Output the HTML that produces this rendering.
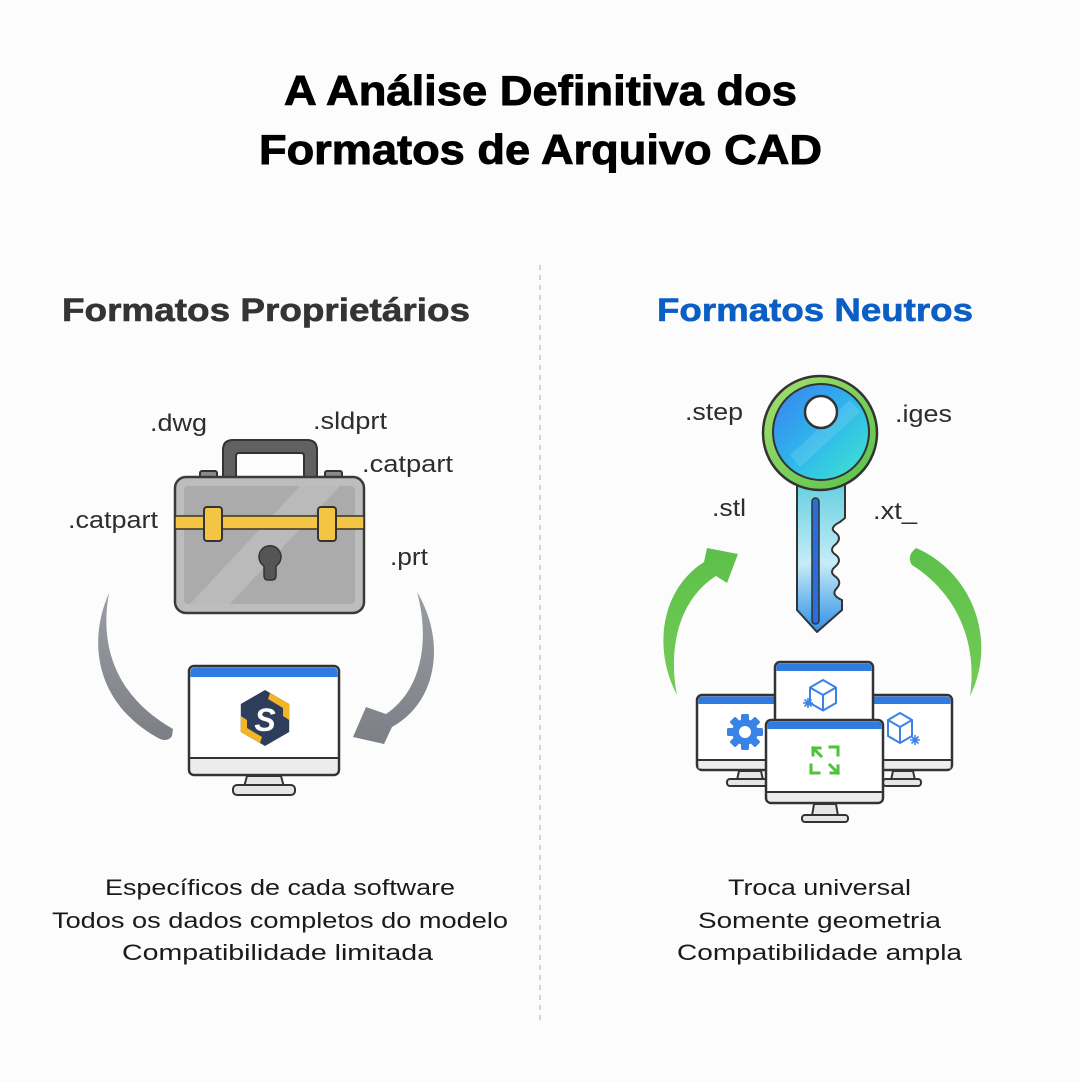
<!DOCTYPE html>
<html>
<head>
<meta charset="utf-8">
<style>
  html, body { margin:0; padding:0; background:#fcfcfc; }
  svg { display:block; }
  text { font-family: "Liberation Sans", sans-serif; }
</style>
</head>
<body>
<svg width="1080" height="1082" viewBox="0 0 1080 1082" xmlns="http://www.w3.org/2000/svg">
  <defs>
    <linearGradient id="ringG" x1="0" y1="0" x2="1" y2="1">
      <stop offset="0" stop-color="#a6e070"/>
      <stop offset="1" stop-color="#56c04a"/>
    </linearGradient>
    <linearGradient id="headG" x1="0" y1="0" x2="1" y2="1">
      <stop offset="0" stop-color="#3a7ff0"/>
      <stop offset="0.5" stop-color="#2fb6ec"/>
      <stop offset="1" stop-color="#3fe8cf"/>
    </linearGradient>
    <linearGradient id="shaftG" x1="0" y1="0" x2="0" y2="1">
      <stop offset="0" stop-color="#62cfe0"/>
      <stop offset="0.55" stop-color="#c6ecf7"/>
      <stop offset="1" stop-color="#2e8fe6"/>
    </linearGradient>
    <linearGradient id="grayA" x1="0" y1="0" x2="0" y2="1">
      <stop offset="0" stop-color="#9a9ea3"/>
      <stop offset="1" stop-color="#7c8086"/>
    </linearGradient>
    <linearGradient id="greenA" x1="0" y1="0" x2="0" y2="1">
      <stop offset="0" stop-color="#5cc04a"/>
      <stop offset="1" stop-color="#74cc56"/>
    </linearGradient>
  </defs>

  <rect x="0" y="0" width="1080" height="1082" fill="#fcfcfc"/>

  <!-- Title -->
  <text x="284" y="105" font-size="42" font-weight="bold" fill="#000" stroke="#000" stroke-width="0.9" textLength="513" lengthAdjust="spacingAndGlyphs">A Análise Definitiva dos</text>
  <text x="259" y="164" font-size="42" font-weight="bold" fill="#000" stroke="#000" stroke-width="0.9" textLength="563" lengthAdjust="spacingAndGlyphs">Formatos de Arquivo CAD</text>

  <!-- Divider -->
  <line x1="540" y1="265" x2="540" y2="1025" stroke="#d4d4d4" stroke-width="2" stroke-dasharray="5 5"/>

  <!-- Headers -->
  <text x="62" y="321" font-size="32" font-weight="bold" fill="#343434" stroke="#343434" stroke-width="0.6" textLength="408" lengthAdjust="spacingAndGlyphs">Formatos Proprietários</text>
  <text x="657" y="321" font-size="32" font-weight="bold" fill="#0b5ec4" stroke="#0b5ec4" stroke-width="0.6" textLength="316" lengthAdjust="spacingAndGlyphs">Formatos Neutros</text>

  <!-- LEFT extension labels -->
  <g font-size="24" fill="#2d2d2d">
    <text x="150" y="431" textLength="57" lengthAdjust="spacingAndGlyphs">.dwg</text>
    <text x="313" y="429" textLength="74" lengthAdjust="spacingAndGlyphs">.sldprt</text>
    <text x="362" y="472" textLength="91" lengthAdjust="spacingAndGlyphs">.catpart</text>
    <text x="68" y="528" textLength="90" lengthAdjust="spacingAndGlyphs">.catpart</text>
    <text x="390" y="565" textLength="38" lengthAdjust="spacingAndGlyphs">.prt</text>
  </g>

  <!-- Briefcase -->
  <path d="M233,440 L307,440 Q317,440 317,450 L317,482 L304,482 L304,456 Q304,453 301,453 L239,453 Q236,453 236,456 L236,482 L223,482 L223,450 Q223,440 233,440 Z" fill="#616161" stroke="#333" stroke-width="2"/>
  <rect x="200" y="471" width="17" height="9" rx="2" fill="#8a8a8a" stroke="#333" stroke-width="2"/>
  <rect x="325" y="471" width="17" height="9" rx="2" fill="#8a8a8a" stroke="#333" stroke-width="2"/>
  <rect x="175" y="477" width="189" height="136" rx="11" fill="#bdbdbd" stroke="#3a3a3a" stroke-width="2.5"/>
  <rect x="184" y="486" width="171" height="118" rx="4" fill="#ababab"/>
  <polygon points="300,486 340,486 230,604 190,604" fill="#ffffff" opacity="0.18"/>
  <rect x="175" y="516" width="189" height="13" fill="#f4c542" stroke="#333" stroke-width="1.5"/>
  <rect x="204" y="507" width="18" height="34" rx="3" fill="#f4c542" stroke="#333" stroke-width="2"/>
  <rect x="318" y="507" width="18" height="34" rx="3" fill="#f4c542" stroke="#333" stroke-width="2"/>
  <path d="M264,575 L264,566 A11,11 0 1 1 276,566 L276,575 Q276,580 272,580 L268,580 Q264,580 264,575 Z" fill="#555" stroke="#333" stroke-width="1.5"/>

  <!-- Left gray arrows -->
  <path d="M109,593 C 86,645 98,706 160,739 Q168,742 172,736 L173,729 C 117,697 99,648 109,593 Z" fill="url(#grayA)"/>
  <path d="M417,592 C 446,640 438,702 392,727 L384,744 L353,737 L366,707 L386,714 C 422,690 430,640 417,592 Z" fill="url(#grayA)"/>

  <!-- Left monitor -->
  <rect x="189" y="666" width="150" height="109" rx="5" fill="#fff" stroke="#333" stroke-width="2.5"/>
  <path d="M190.5,677 L190.5,672 Q190.5,667.5 195,667.5 L333,667.5 Q337.5,667.5 337.5,672 L337.5,677 Z" fill="#2f7be0"/>
  <path d="M190.5,758 L337.5,758 L337.5,770 Q337.5,773.5 334,773.5 L194,773.5 Q190.5,773.5 190.5,770 Z" fill="#ececec"/>
  <line x1="190" y1="758" x2="338" y2="758" stroke="#333" stroke-width="2"/>
  <path d="M247,776 L244,787 L284,787 L281,776 Z" fill="#e6e6e6" stroke="#333" stroke-width="2"/>
  <rect x="233" y="785" width="62" height="10" rx="4" fill="#e6e6e6" stroke="#333" stroke-width="2"/>
  <!-- Logo -->
  <polygon points="265,690 289.2,704 289.2,732 265,746 240.8,732 240.8,704" fill="#2f3d5c"/>
  <polygon points="270,693 289.2,704 289.2,720 283,716 283,708 268,699" fill="#f2b526"/>
  <polygon points="260,743 240.8,732 240.8,716 247,720 247,728 262,737" fill="#f2b526"/>
  <text x="265" y="731" font-size="32" font-weight="bold" font-style="italic" fill="#fff" text-anchor="middle">S</text>

  <!-- RIGHT extension labels -->
  <g font-size="24" fill="#2d2d2d">
    <text x="685" y="420" textLength="58" lengthAdjust="spacingAndGlyphs">.step</text>
    <text x="895" y="422" textLength="57" lengthAdjust="spacingAndGlyphs">.iges</text>
    <text x="712" y="516" textLength="34" lengthAdjust="spacingAndGlyphs">.stl</text>
    <text x="873" y="519" textLength="44" lengthAdjust="spacingAndGlyphs">.xt_</text>
  </g>

  <!-- Key shaft -->
  <path d="M797,480 L797,610 L817,632 L842,610 L842,600 Q830,595 837,588 Q842,582 836,577 Q828,572 836,566 Q842,560 836,555 Q828,550 836,544 Q842,538 836,533 Q828,528 840,522 L845,518 L845,480 Z" fill="url(#shaftG)" stroke="#333" stroke-width="2" stroke-linejoin="round"/>
  <rect x="812" y="498" width="7" height="126" rx="3.5" fill="#2a6fd8" stroke="#333" stroke-width="1.5"/>
  <!-- Key head -->
  <circle cx="820" cy="433" r="57" fill="url(#ringG)" stroke="#333" stroke-width="2.5"/>
  <circle cx="821" cy="432" r="48" fill="url(#headG)" stroke="#333" stroke-width="2"/>
  <polygon points="790,455 850,400 860,412 800,467" fill="#ffffff" opacity="0.12"/>
  <circle cx="821" cy="412" r="16" fill="#fff" stroke="#333" stroke-width="2.5"/>

  <!-- Green arrows -->
  <path d="M677,695 C 653,650 660,590 704,562 L707,548 L738,554 L727,583 L716,576 C 678,600 668,650 677,695 Z" fill="url(#greenA)"/>
  <path d="M916,548 C 972,572 998,640 970,696 C 978,640 955,592 912,565 Q906,556 916,548 Z" fill="url(#greenA)"/>

  <!-- Back-left monitor -->
  <rect x="697" y="695" width="110" height="75" rx="5" fill="#fff" stroke="#333" stroke-width="2.5"/>
  <path d="M698.5,704 L698.5,700 Q698.5,696.5 702,696.5 L806,696.5 L806,704 Z" fill="#2f7be0"/>
  <rect x="698.5" y="760" width="107" height="8.5" fill="#ececec"/>
  <line x1="698" y1="760" x2="806" y2="760" stroke="#333" stroke-width="2"/>
  <path d="M739,771 L737,780 L763,780 L761,771 Z" fill="#e6e6e6" stroke="#333" stroke-width="2"/>
  <rect x="727" y="779" width="41" height="7" rx="3" fill="#e6e6e6" stroke="#333" stroke-width="2"/>
  <!-- gear -->
  <g transform="translate(745,732)" fill="#3b82e6">
    <rect x="-4" y="-18" width="8" height="36" rx="1.5"/>
    <rect x="-4" y="-18" width="8" height="36" rx="1.5" transform="rotate(45)"/>
    <rect x="-4" y="-18" width="8" height="36" rx="1.5" transform="rotate(90)"/>
    <rect x="-4" y="-18" width="8" height="36" rx="1.5" transform="rotate(135)"/>
    <circle r="13"/>
    <circle r="6" fill="#fff"/>
  </g>

  <!-- Back-right monitor -->
  <rect x="845" y="695" width="107" height="75" rx="5" fill="#fff" stroke="#333" stroke-width="2.5"/>
  <path d="M846,704 L846,696.5 L946,696.5 Q950.5,696.5 950.5,700 L950.5,704 Z" fill="#2f7be0"/>
  <rect x="846" y="760" width="104.5" height="8.5" fill="#ececec"/>
  <line x1="846" y1="760" x2="951" y2="760" stroke="#333" stroke-width="2"/>
  <path d="M893,771 L891,780 L915,780 L913,771 Z" fill="#e6e6e6" stroke="#333" stroke-width="2"/>
  <rect x="883" y="779" width="38" height="7" rx="3" fill="#e6e6e6" stroke="#333" stroke-width="2"/>
  <g fill="none" stroke="#3b82e6" stroke-width="2" stroke-linejoin="round">
    <path d="M900,713 L912,720 L912,736 L900,743 L888,736 L888,720 Z"/>
    <path d="M888,720 L900,727 L912,720 M900,727 L900,743"/>
    <path d="M910,740 L920,740 M915,735 L915,745 M911.5,736.5 L918.5,743.5 M918.5,736.5 L911.5,743.5" stroke-width="1.6"/>
  </g>

  <!-- Back-center monitor -->
  <rect x="775" y="662" width="98" height="100" rx="5" fill="#fff" stroke="#333" stroke-width="2.5"/>
  <path d="M776.5,671 L776.5,667 Q776.5,663.5 780,663.5 L868,663.5 Q871.5,663.5 871.5,667 L871.5,671 Z" fill="#2f7be0"/>
  <g fill="none" stroke="#3b82e6" stroke-width="2" stroke-linejoin="round">
    <path d="M823,680 L836,687.5 L836,703 L823,710.5 L810,703 L810,687.5 Z"/>
    <path d="M810,687.5 L823,695 L836,687.5 M823,695 L823,710.5"/>
    <path d="M803,703 L813,703 M808,698 L808,708 M804.5,699.5 L811.5,706.5 M811.5,699.5 L804.5,706.5" stroke-width="1.6"/>
  </g>

  <!-- Front monitor -->
  <rect x="766" y="720" width="117" height="83" rx="5" fill="#fff" stroke="#333" stroke-width="2.5"/>
  <path d="M767.5,729 L767.5,725 Q767.5,721.5 771,721.5 L878,721.5 Q881.5,721.5 881.5,725 L881.5,729 Z" fill="#2f7be0"/>
  <path d="M767.5,792 L881.5,792 L881.5,799 Q881.5,801.5 878,801.5 L771,801.5 Q767.5,801.5 767.5,799 Z" fill="#ececec"/>
  <line x1="767" y1="792" x2="882" y2="792" stroke="#333" stroke-width="2"/>
  <path d="M814,804 L812,816 L838,816 L836,804 Z" fill="#e6e6e6" stroke="#333" stroke-width="2"/>
  <rect x="802" y="815" width="46" height="7" rx="3" fill="#e6e6e6" stroke="#333" stroke-width="2"/>
  <!-- expand icon -->
  <g fill="none" stroke="#4cc33a" stroke-width="3" stroke-linecap="square">
    <path d="M813,748 L821,756"/>
    <path d="M813,755 L813,748 L820,748"/>
    <path d="M830,747 L838,747 L838,755"/>
    <path d="M811,765 L811,773 L819,773"/>
    <path d="M830,765 L838,773"/>
    <path d="M838,766 L838,773 L831,773"/>
  </g>

  <!-- Bottom text left -->
  <g font-size="22" fill="#1a1a1a">
    <text x="105" y="895" textLength="350" lengthAdjust="spacingAndGlyphs">Específicos de cada software</text>
    <text x="52" y="928" textLength="456" lengthAdjust="spacingAndGlyphs">Todos os dados completos do modelo</text>
    <text x="122" y="960" textLength="311" lengthAdjust="spacingAndGlyphs">Compatibilidade limitada</text>
  </g>
  <!-- Bottom text right -->
  <g font-size="22" fill="#1a1a1a">
    <text x="728" y="895" textLength="183" lengthAdjust="spacingAndGlyphs">Troca universal</text>
    <text x="698" y="928" textLength="243" lengthAdjust="spacingAndGlyphs">Somente geometria</text>
    <text x="677" y="960" textLength="285" lengthAdjust="spacingAndGlyphs">Compatibilidade ampla</text>
  </g>
</svg>
</body>
</html>
